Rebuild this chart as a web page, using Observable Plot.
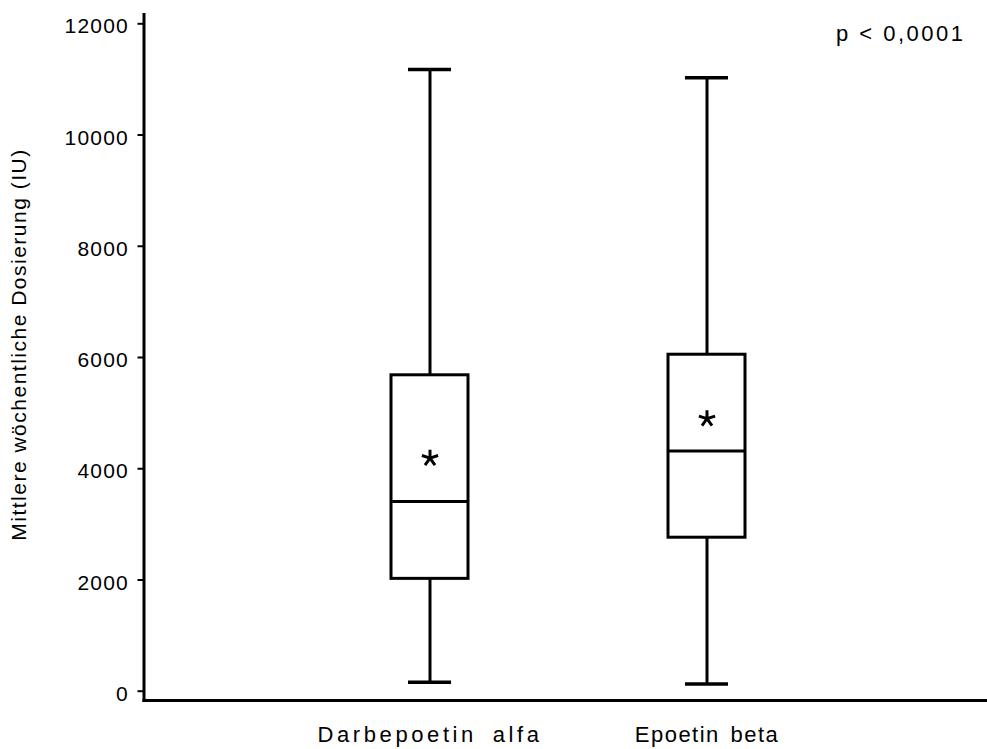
<!DOCTYPE html>
<html>
<head>
<meta charset="utf-8">
<script src="https://cdn.jsdelivr.net/npm/d3@7"></script>
<script src="https://cdn.jsdelivr.net/npm/@observablehq/plot@0.6"></script>
<style>
  html, body { margin: 0; padding: 0; background: #fff; }
  #chart svg [aria-label="y-axis tick label"] text { letter-spacing: 1.2px; }
  #chart svg [aria-label="x-axis tick label"] text:nth-child(1) { letter-spacing: 3.6px; word-spacing: 6px; }
  #chart svg [aria-label="x-axis tick label"] text:nth-child(2) { letter-spacing: 1.5px; word-spacing: 3px; }
</style>
</head>
<body>
<div id="chart"></div>
<script>
// Weekly dose summary per drug: whisker ends, quartiles, median and mean
const groups = ["Darbepoetin alfa", "Epoetin beta"];
const minimum = [160, 130];
const lowerQuartile = [2020, 2760];
const median = [3410, 4320];
const upperQuartile = [5680, 6050];
const maximum = [11180, 11030];
const mean = [4190, 4900];
const yTicks = [0, 2000, 4000, 6000, 8000, 10000, 12000];
const yTitle = "Mittlere wöchentliche Dosierung (IU)";
const pLabel = "p < 0,0001";

const rows = groups.map((group, i) => ({
  group,
  min: minimum[i],
  q1: lowerQuartile[i],
  median: median[i],
  q3: upperQuartile[i],
  max: maximum[i],
  mean: mean[i]
}));

// Five-armed asterisk used to mark the mean
const asterisk = {
  draw(context, size) {
    const r = Math.sqrt(size / Math.PI);
    for (let k = 0; k < 5; k++) {
      const a = -Math.PI / 2 + (k * 2 * Math.PI) / 5;
      context.moveTo(0, 0);
      context.lineTo(r * Math.cos(a), r * Math.sin(a));
    }
  }
};

const ink = "#000";

const chart = Plot.plot({
  width: 987,
  height: 749,
  marginLeft: 143.5,
  marginRight: 0,
  marginTop: 14,
  marginBottom: 49,
  style: {
    fontFamily: "'Liberation Sans', Arial, Helvetica, sans-serif",
    fontSize: "21px",
    color: ink,
    background: "#fff"
  },
  x: {
    type: "band",
    domain: groups,
    paddingInner: 0.723,
    paddingOuter: 0.879,
    align: 0.505,
    axis: null
  },
  y: {
    domain: [-167, 12167],
    axis: null
  },
  marks: [
    Plot.axisY({
      ticks: yTicks,
      tickFormat: d3.format("d"),
      tickSize: 6,
      tickPadding: 9,
      strokeWidth: 2,
      fontSize: 21,
      label: null
    }),
    Plot.axisX({
      tickSize: 0,
      tickPadding: 26,
      fontSize: 22,
      label: null
    }),
    // whiskers
    Plot.ruleX(rows, {x: "group", y1: "min", y2: "q1", stroke: ink, strokeWidth: 3}),
    Plot.ruleX(rows, {x: "group", y1: "q3", y2: "max", stroke: ink, strokeWidth: 3}),
    // whisker caps
    Plot.tickY(rows, {x: "group", y: "min", insetLeft: 17, insetRight: 17, stroke: ink, strokeWidth: 3.5}),
    Plot.tickY(rows, {x: "group", y: "max", insetLeft: 17, insetRight: 17, stroke: ink, strokeWidth: 3.5}),
    // interquartile box
    Plot.barY(rows, {x: "group", y1: "q1", y2: "q3", fill: "#fff", stroke: ink, strokeWidth: 3}),
    // median
    Plot.tickY(rows, {x: "group", y: "median", stroke: ink, strokeWidth: 3}),
    // mean
    Plot.dot(rows, {x: "group", y: "mean", symbol: asterisk, r: 8.5, fill: "none", stroke: ink, strokeWidth: 3}),
    // axis lines
    Plot.frame({anchor: "left", stroke: ink, strokeWidth: 3}),
    Plot.frame({anchor: "bottom", stroke: ink, strokeWidth: 3}),
    // y-axis title
    Plot.text([yTitle], {
      frameAnchor: "left",
      rotate: -90,
      textAnchor: "middle",
      lineAnchor: "top",
      dx: -132.5,
      dy: -13,
      fontSize: 21,
      fill: ink
    }),
    // significance note
    Plot.text([pLabel], {
      frameAnchor: "top-right",
      textAnchor: "end",
      lineAnchor: "top",
      dx: -22,
      dy: 11,
      fontSize: 22,
      fill: ink
    })
  ]
});

// y tick labels sit slightly below their tick marks
d3.select(chart).selectAll('[aria-label="y-axis tick label"] text').attr("dy", "0.14em");
d3.select(chart).selectAll("text")
  .filter(function () { return this.textContent === yTitle; })
  .style("letter-spacing", "1.5px");
d3.select(chart).selectAll("text")
  .filter(function () { return this.textContent === pLabel; })
  .style("letter-spacing", "2.5px");

document.getElementById("chart").appendChild(chart);
</script>
</body>
</html>
